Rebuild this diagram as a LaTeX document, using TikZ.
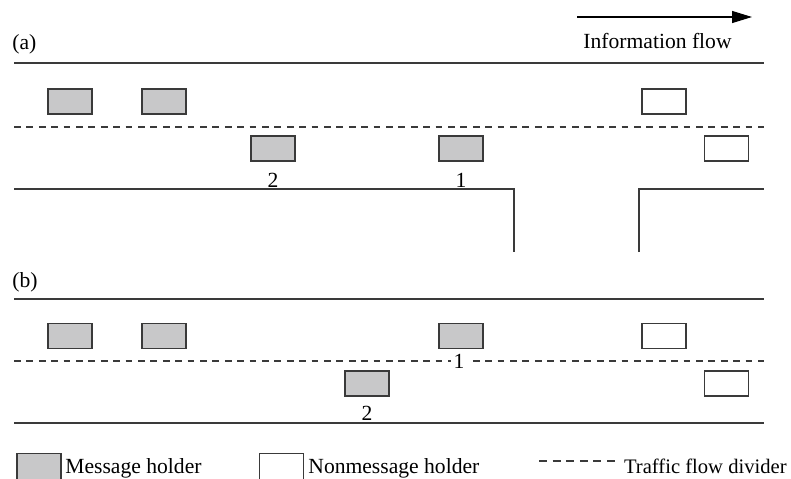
\documentclass[tikz,border=0pt]{standalone}
\usepackage{fontspec}
\setmainfont{Liberation Serif}
\usetikzlibrary{arrows.meta}
\definecolor{holdgray}{HTML}{C8C8C9}
\definecolor{edge}{HTML}{3A3A3A}

\begin{document}
\begin{tikzpicture}[x=0.5pt,y=-0.5pt,
  road/.style={line width=0.9pt,edge},
  divider/.style={line width=0.8pt,edge,dash pattern=on 3.4pt off 2.8pt},
  holder/.style={draw=edge,fill=holdgray,line width=0.6pt,minimum width=22pt,
    minimum height=12.5pt,inner sep=0pt},
  nonholder/.style={holder,fill=white},
  lbl/.style={font=\fontsize{10.8}{13}\selectfont,inner sep=0pt}]
  \useasboundingbox (0,0) rectangle (791,478);
  % flow direction
  \coordinate (fl0) at (577,17);
  \coordinate (fl1) at (752,17);
  \draw[line width=0.6pt,-{Triangle[length=10pt,width=6pt]}] (fl0) -- (fl1);
  \node[lbl,anchor=base] (flow) at (657.5,48) {Information flow};
  % panel a
  \node[lbl,anchor=base west] (pa) at (12,49) {(a)};
  \draw[road] (14,63) -- (764,63);
  \draw[divider] (14,127) -- (764,127);
  \draw[road] (14,189) -- (514,189) -- (514,252);
  \draw[road] (639,252) -- (639,189) -- (764,189);
  \node[holder] (a1) at (70,101.5) {};
  \node[holder] (a2) at (164,101.5) {};
  \node[nonholder] (a3) at (664,101.5) {};
  \node[holder] (a4) at (273,148.5) {};
  \node[holder] (a5) at (461,148.5) {};
  \node[nonholder] (a6) at (726.5,148.5) {};
  \node[lbl,anchor=base] (a4n) at (273,187) {2};
  \node[lbl,anchor=base] (a5n) at (461,187) {1};
  % panel b
  \node[lbl,anchor=base west] (pb) at (12,287) {(b)};
  \draw[road] (14,299) -- (764,299);
  \draw[divider] (14,361) -- (764,361);
  \draw[road] (14,423) -- (764,423);
  \node[holder] (b1) at (70,336) {};
  \node[holder] (b2) at (164,336) {};
  \node[holder] (b3) at (461,336) {};
  \node[nonholder] (b4) at (664,336) {};
  \node[holder] (b5) at (367,383.5) {};
  \node[nonholder] (b6) at (726.5,383.5) {};
  \node[lbl,anchor=base,fill=white,inner xsep=1.5pt] (b3n) at (459,368) {1};
  \node[lbl,anchor=base] (b5n) at (367,420) {2};
  % legend
  \node[holder,anchor=north,minimum height=14pt] (kmsg) at (39,453) {};
  \node[lbl,anchor=base west] (kmsgt) at (65,473) {Message holder};
  \node[nonholder,anchor=north,minimum height=14pt] (knon) at (281.5,453) {};
  \node[lbl,anchor=base west] (knont) at (308,473) {Nonmessage holder};
  \coordinate (kd0) at (539,461);
  \coordinate (kd1) at (615,461);
  \draw[divider,line width=0.6pt,dash pattern=on 4pt off 2.8pt] (kd0) -- (kd1);
  \node[lbl,font=\fontsize{10.3}{13}\selectfont,anchor=base east] (kdivt) at (787,473)
    {Traffic flow divider};
\end{tikzpicture}
\end{document}
